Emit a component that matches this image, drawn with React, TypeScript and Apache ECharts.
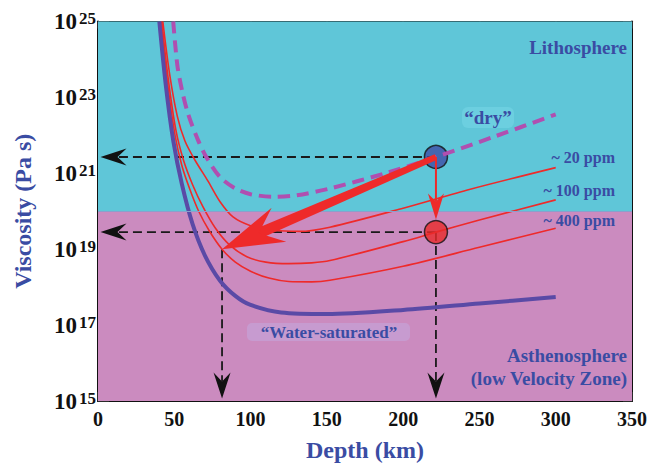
import React, { useEffect, useRef } from "react";
import * as echarts from "echarts";

// Axes: depth (km) and log10 of viscosity (Pa s)
const X_MIN = 0;
const X_MAX = 350;
const X_STEP = 50;
const Y_MIN = 15;
const Y_MAX = 25;
const Y_STEP = 2;
const lithosphereBaseLog = 20;

// "Water-saturated" curve
const waterSatDepth = [40.2, 44.5, 49.4, 55, 62, 70, 80, 90, 100, 120, 150, 200, 250, 300];
const waterSatLogVisc = [25, 23.3, 21.84, 20.71, 19.66, 18.84, 18.17, 17.77, 17.53, 17.33, 17.29, 17.4, 17.57, 17.74];

// "dry" curve
const dryDepth = [49.3, 52, 55, 59, 65.5, 71.4, 80, 90, 100, 115, 130, 152, 190, 221.5, 260, 300];
const dryLogVisc = [25, 23.85, 23.2, 22.57, 21.88, 21.4, 20.9, 20.6, 20.45, 20.38, 20.42, 20.6, 21.02, 21.43, 21.97, 22.55];

// ~20 ppm
const ppm20Depth = [42.5, 47, 52, 57, 63.5, 72, 80, 88.5, 100, 115, 132, 152, 200, 244, 300];
const ppm20LogVisc = [25, 23.6, 22.5, 21.85, 21.35, 20.8, 20.25, 19.85, 19.62, 19.5, 19.47, 19.58, 20.08, 20.58, 21.15];

// ~100 ppm
const ppm100Depth = [41.8, 46, 51, 56, 62, 69, 77, 86, 97.6, 110, 125, 140, 152, 200, 221.5, 250, 300];
const ppm100LogVisc = [25, 23.5, 22.15, 21.35, 20.7, 20.1, 19.55, 19.12, 18.8, 18.66, 18.62, 18.64, 18.7, 19.2, 19.45, 19.77, 20.3];

// ~400 ppm
const ppm400Depth = [41.5, 45.5, 50.5, 55, 60, 66, 73, 81.3, 90, 100, 112, 125, 140, 152, 200, 250, 300];
const ppm400LogVisc = [25, 23.4, 22.0, 21.2, 20.6, 20.0, 19.48, 19.0, 18.66, 18.42, 18.24, 18.15, 18.14, 18.18, 18.55, 19.05, 19.55];

// Annotation points
const dryPoint = [221.5, 21.43];
const wetPoint = [221.5, 19.45];
const arrowTipPoint = [81.3, 19.0];

const guideLines = [
  [dryPoint[0], dryPoint[1], X_MIN, dryPoint[1]],
  [wetPoint[0], wetPoint[1], X_MIN, wetPoint[1]],
  [arrowTipPoint[0], arrowTipPoint[1], arrowTipPoint[0], Y_MIN],
  [wetPoint[0], wetPoint[1], wetPoint[0], Y_MIN],
];

const FONT = '"Liberation Serif", "Times New Roman", serif';
const NAVY = "#3a4ca3";
const CYAN = "#5fc6d8";
const PINK = "#cb8bbf";
const RED = "#ee2a2a";
const PURPLE = "#5a4aa6";
const MAGENTA = "#b04fb0";

const zip = (xs: number[], ys: number[]) => xs.map((x, i) => [x, ys[i]]);

function head(tip: number[], ux: number, uy: number, len: number, hw: number, notch: number) {
  const px = -uy;
  const py = ux;
  const bx = tip[0] - ux * len;
  const by = tip[1] - uy * len;
  return [
    [tip[0], tip[1]],
    [bx + px * hw, by + py * hw],
    [tip[0] - ux * notch, tip[1] - uy * notch],
    [bx - px * hw, by - py * hw],
  ];
}

function renderGuide(params: any, api: any) {
  const s = api.coord([api.value(0), api.value(1)]);
  const e0 = api.coord([api.value(2), api.value(3)]);
  const dx = e0[0] - s[0];
  const dy = e0[1] - s[1];
  const L = Math.hypot(dx, dy);
  const ux = dx / L;
  const uy = dy / L;
  const e = [e0[0] - ux * 2.5, e0[1] - uy * 2.5];
  const notch = 17;
  return {
    type: "group",
    children: [
      {
        type: "line",
        shape: { x1: s[0], y1: s[1], x2: e[0] - ux * notch, y2: e[1] - uy * notch },
        style: { stroke: "#1a1a1a", lineWidth: 1.8, lineDash: [9, 5] },
      },
      {
        type: "polygon",
        shape: { points: head(e, ux, uy, 26, 8.5, notch) },
        style: { fill: "#111" },
      },
    ],
  };
}

function renderBigArrow(params: any, api: any) {
  const s = api.coord([api.value(0), api.value(1)]);
  const e = api.coord([api.value(2), api.value(3)]);
  const dx = e[0] - s[0];
  const dy = e[1] - s[1];
  const L = Math.hypot(dx, dy);
  const ux = dx / L;
  const uy = dy / L;
  const px = -uy;
  const py = ux;
  const notch = 40;
  const n = [e[0] - ux * notch, e[1] - uy * notch];
  const w0 = 3;
  const w1 = 5.5;
  return {
    type: "group",
    children: [
      {
        type: "polygon",
        shape: {
          points: [
            [s[0] + px * w0, s[1] + py * w0],
            [n[0] + ux * 6 + px * w1, n[1] + uy * 6 + py * w1],
            [n[0] + ux * 6 - px * w1, n[1] + uy * 6 - py * w1],
            [s[0] - px * w0, s[1] - py * w0],
          ],
        },
        style: { fill: RED },
      },
      {
        type: "polygon",
        shape: { points: head(e, ux, uy, 62, 18.5, notch) },
        style: { fill: RED },
      },
    ],
  };
}

function renderSmallArrow(params: any, api: any) {
  const s = api.coord([api.value(0), api.value(1)]);
  const c = api.coord([api.value(2), api.value(3)]);
  const dx = c[0] - s[0];
  const dy = c[1] - s[1];
  const L = Math.hypot(dx, dy);
  const ux = dx / L;
  const uy = dy / L;
  const e = [c[0] - ux * 12.5, c[1] - uy * 12.5];
  const notch = 18;
  return {
    type: "group",
    children: [
      {
        type: "line",
        shape: { x1: s[0], y1: s[1], x2: e[0] - ux * notch, y2: e[1] - uy * notch },
        style: { stroke: RED, lineWidth: 2 },
      },
      {
        type: "polygon",
        shape: { points: head(e, ux, uy, 26, 8, notch) },
        style: { fill: RED },
      },
    ],
  };
}

function txt(text: string, x: number, y: number, size: number, align: string, extra: any = {}) {
  return {
    type: "text",
    x,
    y,
    z: 20,
    silent: true,
    style: {
      text,
      fill: NAVY,
      font: `bold ${size}px ${FONT}`,
      textAlign: align,
      align,
      textVerticalAlign: "middle",
      verticalAlign: "middle",
      ...extra,
    },
  };
}

export default function App() {
  const ref = useRef<HTMLDivElement>(null);

  useEffect(() => {
    if (!ref.current) return;
    const chart = echarts.init(ref.current, undefined, { renderer: "svg" });

    const curveSeries = (data: number[][], color: string, width: number, z: number, dash?: any) => ({
      type: "line",
      data,
      showSymbol: false,
      smooth: 0.3,
      silent: true,
      z,
      lineStyle: { color, width, type: dash || "solid", cap: "butt" },
    });

    const option: any = {
      animation: false,
      grid: { left: 98, top: 16, width: 534, height: 387, containLabel: false },
      xAxis: [
        {
          type: "value",
          min: X_MIN,
          max: X_MAX,
          interval: X_STEP,
          position: "bottom",
          axisLine: { show: true, onZero: false, lineStyle: { color: "#111", width: 2 } },
          axisTick: { show: true, inside: true, length: 9, lineStyle: { color: "#333", width: 1.5 } },
          axisLabel: { margin: 8, color: "#111", fontSize: 20, fontWeight: "bold", fontFamily: FONT },
          splitLine: { show: false },
          name: "Depth (km)",
          nameLocation: "middle",
          nameGap: 37,
          nameTextStyle: { color: NAVY, fontSize: 24, fontWeight: "bold", fontFamily: FONT },
        },
        {
          type: "value",
          min: X_MIN,
          max: X_MAX,
          interval: X_STEP,
          position: "top",
          axisLine: { show: true, onZero: false, lineStyle: { color: "#111", width: 2 } },
          axisTick: { show: true, inside: true, length: 7, lineStyle: { color: "#333", width: 1.5 } },
          axisLabel: { show: false },
          splitLine: { show: false },
        },
      ],
      yAxis: [
        {
          type: "value",
          min: Y_MIN,
          max: Y_MAX,
          interval: Y_STEP,
          position: "left",
          axisLine: { show: true, onZero: false, lineStyle: { color: "#111", width: 2 } },
          axisTick: { show: true, inside: true, length: 11, lineStyle: { color: "#333", width: 1.5 } },
          axisLabel: {
            margin: 2,
            formatter: (v: number) => `{b|10}{s|${v}}`,
            rich: {
              b: { fontSize: 23, fontWeight: "bold", fontFamily: FONT, color: "#111", lineHeight: 23, padding: [10, 2, 0, 0], verticalAlign: "bottom" },
              s: { fontSize: 17, fontWeight: "bold", fontFamily: FONT, color: "#111", lineHeight: 17, padding: [0, 0, 10, 0], verticalAlign: "top" },
            },
          },
          splitLine: { show: false },
          name: "Viscosity (Pa s)",
          nameLocation: "middle",
          nameRotate: 90,
          nameGap: 63,
          nameTextStyle: { color: NAVY, fontSize: 24, fontWeight: "bold", fontFamily: FONT },
        },
        {
          type: "value",
          min: Y_MIN,
          max: Y_MAX,
          interval: Y_STEP,
          position: "right",
          axisLine: { show: true, onZero: false, lineStyle: { color: "#111", width: 2 } },
          axisTick: { show: true, inside: true, length: 9, lineStyle: { color: "#333", width: 1.5 } },
          axisLabel: { show: false },
          splitLine: { show: false },
        },
      ],
      graphic: [
        {
          type: "rect",
          z: 15,
          silent: true,
          shape: { x: 462, y: 107, width: 52, height: 21, r: 6 },
          style: { fill: "#6ccfe0" },
        },
        {
          type: "rect",
          z: 15,
          silent: true,
          shape: { x: 247, y: 323, width: 163, height: 18, r: 5 },
          style: { fill: "#c79bd0" },
        },
        txt("Lithosphere", 627, 47, 19, "right"),
        txt("\u201Cdry\u201D", 488, 117, 19, "center"),
        txt("~ 20 ppm", 615, 157, 16, "right"),
        txt("~ 100 ppm", 615, 190, 16, "right"),
        txt("~ 400 ppm", 615, 220, 16, "right"),
        txt("\u201CWater-saturated\u201D", 329, 332, 17, "center"),
        txt("Asthenosphere", 627, 355, 19, "right"),
        txt("(low Velocity Zone)", 627, 378, 19, "right"),
      ],
      series: [
        {
          type: "line",
          data: [[X_MIN, Y_MIN]],
          showSymbol: false,
          silent: true,
          z: 1,
          lineStyle: { opacity: 0 },
          markArea: {
            silent: true,
            data: [
              [{ yAxis: lithosphereBaseLog, itemStyle: { color: CYAN } }, { yAxis: Y_MAX }],
              [{ yAxis: Y_MIN, itemStyle: { color: PINK } }, { yAxis: lithosphereBaseLog }],
            ],
          },
          markLine: {
            silent: true,
            symbol: ["none", "none"],
            label: { show: false },
            lineStyle: { color: "#8b9fcc", width: 1, type: "solid" },
            data: [{ yAxis: lithosphereBaseLog }],
          },
        },
        {
          type: "custom",
          coordinateSystem: "cartesian2d",
          renderItem: renderGuide,
          data: guideLines,
          encode: { x: [0, 2], y: [1, 3] },
          silent: true,
          z: 3,
        },
        curveSeries(zip(ppm20Depth, ppm20LogVisc), RED, 1.6, 4),
        curveSeries(zip(ppm100Depth, ppm100LogVisc), RED, 1.6, 4),
        curveSeries(zip(ppm400Depth, ppm400LogVisc), RED, 1.6, 4),
        curveSeries(zip(waterSatDepth, waterSatLogVisc), PURPLE, 4, 4),
        {
          type: "scatter",
          silent: true,
          z: 5,
          symbolSize: 23,
          itemStyle: { borderColor: "#111", borderWidth: 1.5 },
          data: [
            { value: dryPoint, itemStyle: { color: "#3d4ea6" } },
            { value: wetPoint, itemStyle: { color: "#e92a2a" } },
          ],
        },
        curveSeries(zip(dryDepth, dryLogVisc), MAGENTA, 4, 6, [12, 7]),
        {
          type: "custom",
          coordinateSystem: "cartesian2d",
          renderItem: renderBigArrow,
          data: [[dryPoint[0], dryPoint[1], arrowTipPoint[0], arrowTipPoint[1]]],
          encode: { x: [0, 2], y: [1, 3] },
          silent: true,
          z: 7,
        },
        {
          type: "custom",
          coordinateSystem: "cartesian2d",
          renderItem: renderSmallArrow,
          data: [[dryPoint[0], dryPoint[1], wetPoint[0], wetPoint[1]]],
          encode: { x: [0, 2], y: [1, 3] },
          silent: true,
          z: 7,
        },
      ],
    };

    chart.setOption(option);
    return () => chart.dispose();
  }, []);

  return (
    <div
      ref={ref}
      style={{ position: "fixed", left: 0, top: 0, width: 650, height: 467, background: "#fff" }}
    />
  );
}
